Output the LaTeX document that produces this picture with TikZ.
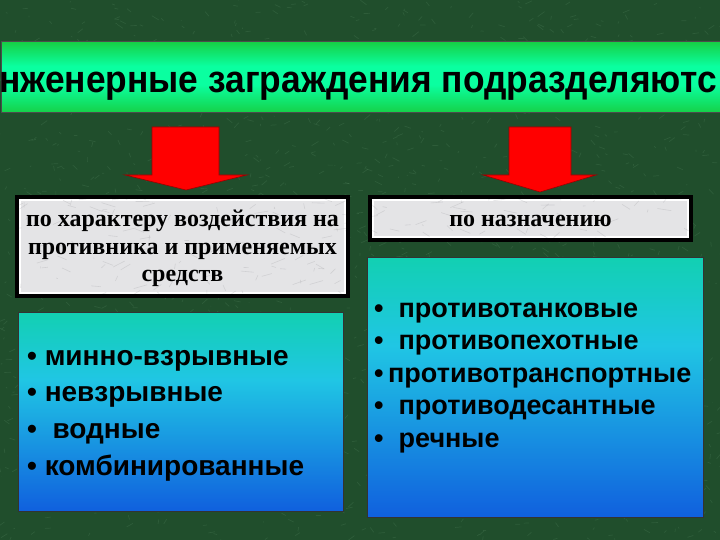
\documentclass[tikz,border=0pt]{standalone}
\usepackage{fontspec}
\setmainfont{Liberation Serif}
\setsansfont{Liberation Sans}
\usetikzlibrary{positioning}

\definecolor{bg green}{RGB}{32,78,44}
\definecolor{bg vein}{RGB}{120,170,130}
\definecolor{banner green}{RGB}{22,208,70}
\definecolor{banner light}{RGB}{10,255,160}
\definecolor{marble}{RGB}{228,228,230}
\definecolor{marble vein}{RGB}{150,150,155}
\definecolor{box top}{RGB}{18,208,178}
\definecolor{box mid}{RGB}{32,198,228}
\definecolor{box bottom}{RGB}{16,96,222}

\pgfdeclareverticalshading{banner shade}{100bp}{color(0bp)=(banner green); color(25bp)=(banner green);
  color(45bp)=(banner light); color(58bp)=(banner light); color(75bp)=(banner green); color(100bp)=(banner green)}
\pgfdeclareverticalshading{box shade}{100bp}{color(0bp)=(box bottom); color(25bp)=(box bottom);
  color(58bp)=(box mid); color(75bp)=(box top); color(100bp)=(box top)}

\begin{document}
\begin{tikzpicture}
  [
    x=1pt, y=-1pt,
    my banner/.style={shading=banner shade, draw=black!70, line width=1pt},
    my arrow/.style={fill=red, draw=red!60!black, line width=0.6pt},
    my plate/.style={rectangle, fill=marble, draw=white, line width=1.2pt,
      preaction={draw=black, line width=10pt}, inner sep=0pt},
    my plate text/.style={inner sep=0pt, align=center, font=\fontsize{24}{27.5}\selectfont\bfseries},
    my box/.style={rectangle, shading=box shade, draw=black!80, line width=1pt, inner sep=0pt},
    my item/.style={anchor=base west, inner sep=0pt, font=\sffamily\bfseries\fontsize{27}{30}\selectfont}
  ]
  \useasboundingbox (0,0) rectangle (720,540);
  \fill [bg green] (0,0) rectangle (720,540);
  \pgfmathsetseed{11}
  \foreach \k in {1,...,1500} {
    \pgfmathsetmacro\xx{720*rnd}
    \pgfmathsetmacro\yy{540*rnd}
    \draw [bg vein, opacity=0.16, line width=0.7pt] (\xx,\yy) -- ++(7*rand,5*rand);
  }

  % title bar
  \path [my banner] (1,42) rectangle (726,113);
  \node (title) [anchor=base west, inner sep=0pt, xscale=0.93, font=\sffamily\bfseries\fontsize{38}{40}\selectfont]
    at (-1,93) {нженерные заграждения подразделяютс};

  % arrows
  \fill [my arrow] (152,127) -- (219,127) -- (219,175) -- (247,175) -- (186,190) -- (125,175) -- (152,175) -- cycle;
  \fill [my arrow] (509,127) -- (571,127) -- (571,175) -- (596,175) -- (540,192) -- (483,175) -- (509,175) -- cycle;

  % plates
  \node (kind) [my plate, minimum width=325pt, minimum height=93pt] at (182.5,246.5) {};
  \node (purpose) [my plate, minimum width=315pt, minimum height=37pt] at (530.5,218.5) {};
  \begin{scope}
    \clip (kind.south west) rectangle (kind.north east) (purpose.south west) rectangle (purpose.north east);
    \foreach \k in {1,...,260} {
      \pgfmathsetmacro\xx{15+680*rnd}
      \pgfmathsetmacro\yy{195+105*rnd}
      \draw [marble vein, opacity=0.25, line width=0.6pt] (\xx,\yy) -- ++(14*rand,6*rand);
    }
  \end{scope}
  \node (kind text) [my plate text] at ([yshift=-2pt]kind.center)
    {по характеру воздействия на\\противника и применяемых\\средств};
  \node (purpose text) [my plate text, anchor=base] at ([yshift=-7.5pt]purpose.center) {по назначению};

  % lists
  \node (left box) [my box, minimum width=325pt, minimum height=199pt] at (180.5,411.5) {};
  \node (right box) [my box, minimum width=336pt, minimum height=260pt] at (535,387) {};

  \foreach \txt [count=\i] in {\ минно-взрывные, \ невзрывные, \ \ водные, \ комбинированные}
    \node (left \i) [my item, font=\sffamily\bfseries\fontsize{28}{30}\selectfont] at (27,365+36.7*\i-36.7) {•\txt};
  \foreach \txt [count=\i] in {\ \ противотанковые, \ \ противопехотные, \,противотранспортные, \ \ противодесантные, \ \ речные}
    \node (right \i) [my item] at (374,317+32.5*\i-32.5) {•\txt};
\end{tikzpicture}
\end{document}
